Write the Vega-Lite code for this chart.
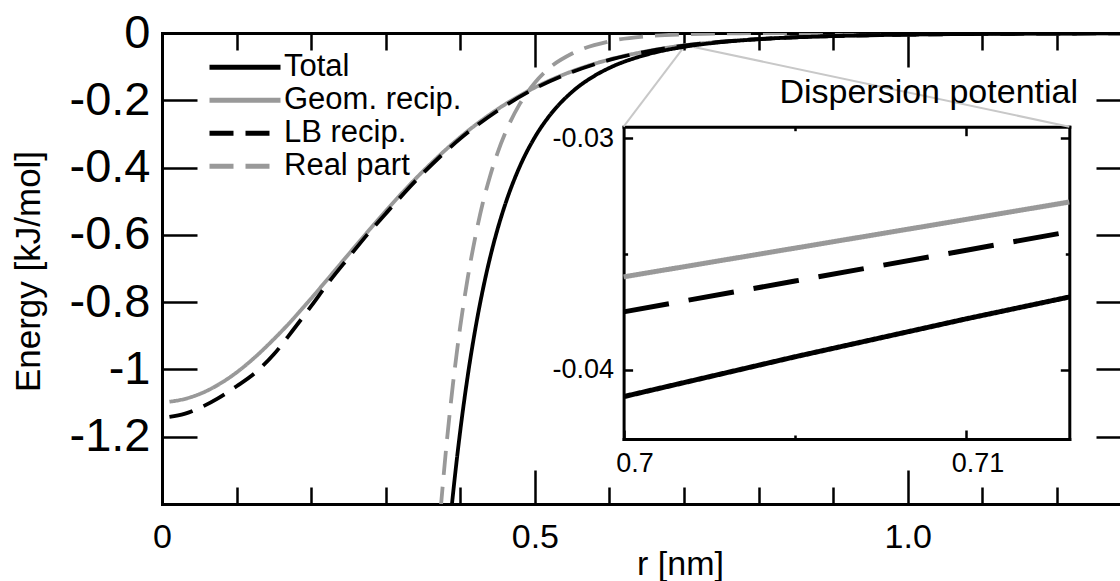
{
"$schema": "https://vega.github.io/schema/vega-lite/v6.json",
"width": 958, "height": 471,
"autosize": "none",
"padding": {"left": 162, "top": 33, "right": 0, "bottom": 77},
"background": "white",
"config": {"font": "Liberation Sans", "view": {"stroke": null},
  "axis": {"grid": false, "domainColor": "black", "tickColor": "black", "labelColor": "black", "titleColor": "black", "labelFont": "Liberation Sans", "titleFont": "Liberation Sans", "titleFontWeight": "normal", "labelFlush": false, "labelOverlap": false, "labelBound": false, "tickCap": "butt", "domainCap": "square"},
  "legend": {"labelFont": "Liberation Sans", "labelColor": "black"}},
"datasets": {
 "main": [
  {"series":"Geom. recip.","r":0.01,"E":-1.096},{"series":"Geom. recip.","r":0.03,"E":-1.088},{"series":"Geom. recip.","r":0.05,"E":-1.0735},{"series":"Geom. recip.","r":0.075,"E":-1.046},{"series":"Geom. recip.","r":0.1,"E":-1.009},{"series":"Geom. recip.","r":0.125,"E":-0.963},{"series":"Geom. recip.","r":0.15,"E":-0.91},{"series":"Geom. recip.","r":0.175,"E":-0.852},{"series":"Geom. recip.","r":0.2,"E":-0.789},{"series":"Geom. recip.","r":0.225,"E":-0.724},{"series":"Geom. recip.","r":0.25,"E":-0.658},{"series":"Geom. recip.","r":0.275,"E":-0.593},{"series":"Geom. recip.","r":0.3,"E":-0.529},{"series":"Geom. recip.","r":0.35,"E":-0.411},{"series":"Geom. recip.","r":0.4,"E":-0.3095},{"series":"Geom. recip.","r":0.45,"E":-0.2266},{"series":"Geom. recip.","r":0.5,"E":-0.162},{"series":"Geom. recip.","r":0.55,"E":-0.1138},{"series":"Geom. recip.","r":0.6,"E":-0.0788},{"series":"Geom. recip.","r":0.65,"E":-0.0543},{"series":"Geom. recip.","r":0.7,"E":-0.0365},{"series":"Geom. recip.","r":0.75,"E":-0.0258},{"series":"Geom. recip.","r":0.8,"E":-0.018},{"series":"Geom. recip.","r":0.9,"E":-0.009},{"series":"Geom. recip.","r":1.0,"E":-0.0048},{"series":"Geom. recip.","r":1.1,"E":-0.0027},{"series":"Geom. recip.","r":1.2,"E":-0.0016},{"series":"Geom. recip.","r":1.3,"E":-0.001},
  {"series":"Real part","r":0.3735,"E":-1.42},{"series":"Real part","r":0.375,"E":-1.382},{"series":"Real part","r":0.38,"E":-1.259},{"series":"Real part","r":0.385,"E":-1.148},{"series":"Real part","r":0.39,"E":-1.047},{"series":"Real part","r":0.395,"E":-0.956},{"series":"Real part","r":0.4,"E":-0.872},{"series":"Real part","r":0.41,"E":-0.728},{"series":"Real part","r":0.42,"E":-0.608},{"series":"Real part","r":0.43,"E":-0.507},{"series":"Real part","r":0.44,"E":-0.425},{"series":"Real part","r":0.45,"E":-0.356},{"series":"Real part","r":0.46,"E":-0.299},{"series":"Real part","r":0.48,"E":-0.21},{"series":"Real part","r":0.5,"E":-0.148},{"series":"Real part","r":0.52,"E":-0.103},{"series":"Real part","r":0.55,"E":-0.061},{"series":"Real part","r":0.6,"E":-0.025},{"series":"Real part","r":0.65,"E":-0.0099},{"series":"Real part","r":0.7,"E":-0.0039},{"series":"Real part","r":0.75,"E":-0.0014},{"series":"Real part","r":0.8,"E":-0.0005},{"series":"Real part","r":0.9,"E":-0.0001},{"series":"Real part","r":1.0,"E":0},{"series":"Real part","r":1.3,"E":0},
  {"series":"LB recip.","r":0.01,"E":-1.141},{"series":"LB recip.","r":0.03,"E":-1.132},{"series":"LB recip.","r":0.05,"E":-1.115},{"series":"LB recip.","r":0.075,"E":-1.086},{"series":"LB recip.","r":0.1,"E":-1.05},{"series":"LB recip.","r":0.125,"E":-1.01},{"series":"LB recip.","r":0.15,"E":-0.955},{"series":"LB recip.","r":0.175,"E":-0.885},{"series":"LB recip.","r":0.2,"E":-0.812},{"series":"LB recip.","r":0.225,"E":-0.737},{"series":"LB recip.","r":0.25,"E":-0.668},{"series":"LB recip.","r":0.275,"E":-0.6},{"series":"LB recip.","r":0.3,"E":-0.537},{"series":"LB recip.","r":0.35,"E":-0.417},{"series":"LB recip.","r":0.4,"E":-0.314},{"series":"LB recip.","r":0.45,"E":-0.231},{"series":"LB recip.","r":0.5,"E":-0.165},{"series":"LB recip.","r":0.55,"E":-0.116},{"series":"LB recip.","r":0.6,"E":-0.08},{"series":"LB recip.","r":0.65,"E":-0.055},{"series":"LB recip.","r":0.7,"E":-0.0375},{"series":"LB recip.","r":0.75,"E":-0.026},{"series":"LB recip.","r":0.8,"E":-0.018},{"series":"LB recip.","r":0.9,"E":-0.0091},{"series":"LB recip.","r":1.0,"E":-0.0049},{"series":"LB recip.","r":1.1,"E":-0.0028},{"series":"LB recip.","r":1.2,"E":-0.0017},{"series":"LB recip.","r":1.3,"E":-0.001},
  {"series":"Total","r":0.386,"E":-1.4636},{"series":"Total","r":0.39,"E":-1.3758},{"series":"Total","r":0.395,"E":-1.2745},{"series":"Total","r":0.4,"E":-1.1819},{"series":"Total","r":0.41,"E":-1.0191},{"series":"Total","r":0.42,"E":-0.882},{"series":"Total","r":0.43,"E":-0.7658},{"series":"Total","r":0.44,"E":-0.6671},{"series":"Total","r":0.45,"E":-0.583},{"series":"Total","r":0.46,"E":-0.511},{"series":"Total","r":0.48,"E":-0.3958},{"series":"Total","r":0.5,"E":-0.3098},{"series":"Total","r":0.52,"E":-0.2449},{"series":"Total","r":0.55,"E":-0.1749},{"series":"Total","r":0.58,"E":-0.1272},{"series":"Total","r":0.6,"E":-0.1038},{"series":"Total","r":0.65,"E":-0.0642},{"series":"Total","r":0.7,"E":-0.04115},{"series":"Total","r":0.75,"E":-0.0272},{"series":"Total","r":0.8,"E":-0.01847},{"series":"Total","r":0.9,"E":-0.00911},{"series":"Total","r":1.0,"E":-0.00484},{"series":"Total","r":1.1,"E":-0.00273},{"series":"Total","r":1.2,"E":-0.00162},{"series":"Total","r":1.3,"E":-0.001}
 ],
 "inset": [
  {"series":"Geom. recip.","r":0.7,"E":-0.03598},{"series":"Geom. recip.","r":0.705,"E":-0.03474},{"series":"Geom. recip.","r":0.71,"E":-0.0335},{"series":"Geom. recip.","r":0.713,"E":-0.03275},
  {"series":"LB recip.","r":0.7,"E":-0.03749},{"series":"LB recip.","r":0.705,"E":-0.03616},{"series":"LB recip.","r":0.71,"E":-0.03483},{"series":"LB recip.","r":0.713,"E":-0.03403},
  {"series":"Total","r":0.7,"E":-0.04115},{"series":"Total","r":0.705,"E":-0.03943},{"series":"Total","r":0.71,"E":-0.03779},{"series":"Total","r":0.713,"E":-0.03685}
 ],
 "links": [
  {"r":0.7,"E":-0.0415,"r2":0.619,"E2":-0.2785},
  {"r":0.713,"E":-0.0415,"r2":1.2167,"E2":-0.2785}
 ],
 "ax": [{"r":0.5,"E":-0.5}],
 "iax": [{"r":0.705,"E":-0.035}],
 "note": [{"label":"Dispersion potential","r":1.2284,"E":-0.2081}]
},
"resolve": {"scale": {"x": "independent", "y": "independent", "color": "independent", "strokeDash": "independent"}},
"layer": [
 {
  "resolve": {"axis": {"x": "independent", "y": "independent"}},
  "layer": [
   {"data": {"name": "links"},
    "mark": {"type": "rule", "color": "#c8c8c8", "strokeWidth": 2},
    "encoding": {
     "x": {"field": "r", "type": "quantitative", "scale": {"domain": [0, 1.2847], "nice": false, "zero": false},
       "axis": {"orient": "bottom", "values": [0, 0.5, 1], "tickSize": -34, "tickWidth": 2.5, "domainWidth": 3, "labelFontSize": 34, "labelPadding": 50, "labelExpr": "datum.value == 0 ? '0' : format(datum.value, '.1f')", "title": "r [nm]", "titleFontSize": 34, "titleX": 518, "titleY": 70, "titleBaseline": "alphabetic", "titleAlign": "center"}},
     "y": {"field": "E", "type": "quantitative", "scale": {"domain": [-1.4, 0], "nice": false, "zero": false},
       "axis": {"orient": "left", "values": [0, -0.2, -0.4, -0.6, -0.8, -1, -1.2], "tickSize": -35, "tickWidth": 2.5, "domainWidth": 3, "labelFontSize": 47, "labelPadding": 47, "labelExpr": "datum.value == 0 ? '0' : '-' + format(-datum.value, '~g')", "title": "Energy [kJ/mol]", "titleFontSize": 35, "titleAngle": -90, "titleX": -123, "titleY": 238, "titleBaseline": "alphabetic", "titleAlign": "center"}},
     "x2": {"field": "r2"},
     "y2": {"field": "E2"}
    }},
   {"data": {"name": "main"},
    "mark": {"type": "line", "strokeWidth": 3.8, "clip": true, "interpolate": "monotone"},
    "encoding": {
     "x": {"field": "r", "type": "quantitative", "scale": {"domain": [0, 1.2847], "nice": false, "zero": false},
       "axis": {"orient": "bottom", "values": [0.1, 0.2, 0.3, 0.4, 0.6, 0.7, 0.8, 0.9, 1.1, 1.2], "tickSize": -17, "tickWidth": 2.5, "domain": false, "labels": false, "title": null}},
     "y": {"field": "E", "type": "quantitative", "scale": {"domain": [-1.4, 0], "nice": false, "zero": false},
       "axis": {"orient": "right", "offset": 11, "values": [0, -0.2, -0.4, -0.6, -0.8, -1, -1.2], "tickSize": -35, "tickWidth": 2.5, "domain": false, "labels": false, "title": null}},
     "color": {"field": "series", "type": "nominal",
       "scale": {"domain": ["Total", "Geom. recip.", "LB recip.", "Real part"], "range": ["#000000", "#999999", "#000000", "#999999"]},
       "legend": {"orient": "none", "legendX": 45, "legendY": 18, "title": null, "symbolType": "stroke", "symbolSize": 5041, "symbolStrokeWidth": 5, "labelFontSize": 31, "labelOffset": 1, "clipHeight": 32.5, "rowPadding": 0, "padding": 0, "labelLimit": 0,
         "encode": {"symbols": {"update": {"strokeDash": {"signal": "indexof(['LB recip.', 'Real part'], datum.value) >= 0 ? [26, 28] : [1, 0]"}}}}}},
     "strokeDash": {"field": "series", "type": "nominal",
       "scale": {"domain": ["Total", "Geom. recip.", "LB recip.", "Real part"], "range": [[1, 0], [1, 0], [24, 12], [24, 12]]},
       "legend": {"orient": "none", "legendX": 45, "legendY": 18, "title": null, "symbolType": "stroke", "symbolSize": 5041, "symbolStrokeWidth": 5, "labelFontSize": 31, "labelOffset": 1, "clipHeight": 32.5, "rowPadding": 0, "padding": 0, "labelLimit": 0,
         "encode": {"symbols": {"update": {"strokeDash": {"signal": "indexof(['LB recip.', 'Real part'], datum.value) >= 0 ? [26, 28] : [1, 0]"}}}}}}
    }},
   {"data": {"name": "ax"},
    "mark": {"type": "point", "opacity": 0},
    "encoding": {
     "x": {"field": "r", "type": "quantitative", "scale": {"domain": [0, 1.2847], "nice": false, "zero": false},
       "axis": {"orient": "top", "values": [0, 0.5, 1], "tickSize": -34, "tickWidth": 2.5, "domainWidth": 3, "labels": false, "title": null}},
     "y": {"field": "E", "type": "quantitative", "scale": {"domain": [-1.4, 0], "nice": false, "zero": false}, "axis": null}
    }},
   {"data": {"name": "ax"},
    "mark": {"type": "point", "opacity": 0},
    "encoding": {
     "x": {"field": "r", "type": "quantitative", "scale": {"domain": [0, 1.2847], "nice": false, "zero": false},
       "axis": {"orient": "top", "values": [0.1, 0.2, 0.3, 0.4, 0.6, 0.7, 0.8, 0.9, 1.1, 1.2], "tickSize": -17, "tickWidth": 2.5, "domain": false, "labels": false, "title": null}},
     "y": {"field": "E", "type": "quantitative", "scale": {"domain": [-1.4, 0], "nice": false, "zero": false}, "axis": null}
    }},
   {"data": {"name": "note"},
    "mark": {"type": "text", "align": "right", "baseline": "alphabetic", "fontSize": 34, "font": "Liberation Sans", "color": "black"},
    "encoding": {
     "x": {"field": "r", "type": "quantitative", "scale": {"domain": [0, 1.2847], "nice": false, "zero": false}, "axis": null},
     "y": {"field": "E", "type": "quantitative", "scale": {"domain": [-1.4, 0], "nice": false, "zero": false}, "axis": null},
     "text": {"field": "label"}
    }}
  ]
 },
 {
  "resolve": {"axis": {"x": "independent", "y": "independent"}},
  "layer": [
   {"data": {"name": "inset"},
    "mark": {"type": "line", "strokeWidth": 5},
    "encoding": {
     "x": {"field": "r", "type": "quantitative", "scale": {"domain": [0.7, 0.713], "range": [461.6, 907.3], "nice": false, "zero": false},
       "axis": {"orient": "bottom", "offset": -65, "values": [0.7, 0.71], "tickSize": -9, "tickWidth": 2.5, "domainWidth": 3, "labelFontSize": 27, "labelPadding": 20, "labelOffset": 11, "labelExpr": "format(datum.value, '~g')", "title": null}},
     "y": {"field": "E", "type": "quantitative", "scale": {"domain": [-0.042978, -0.0295], "range": [406, 93.7], "nice": false, "zero": false},
       "axis": {"orient": "left", "offset": -461.6, "values": [-0.03, -0.04], "tickSize": -9, "tickWidth": 2.5, "domainWidth": 3, "labelFontSize": 27, "labelPadding": 19, "labelExpr": "'-' + format(-datum.value, '~g')", "title": null}},
     "color": {"field": "series", "type": "nominal", "scale": {"domain": ["Total", "Geom. recip.", "LB recip."], "range": ["#000000", "#999999", "#000000"]}, "legend": null},
     "strokeDash": {"field": "series", "type": "nominal", "scale": {"domain": ["Total", "Geom. recip.", "LB recip."], "range": [[1, 0], [1, 0], [46, 20]]}, "legend": null}
    }},
   {"data": {"name": "iax"},
    "mark": {"type": "point", "opacity": 0},
    "encoding": {
     "x": {"field": "r", "type": "quantitative", "scale": {"domain": [0.7, 0.713], "range": [461.6, 907.3], "nice": false, "zero": false},
       "axis": {"orient": "bottom", "offset": -65, "values": [0.705], "tickSize": -4, "tickWidth": 2.5, "domain": false, "labels": false, "title": null}},
     "y": {"field": "E", "type": "quantitative", "scale": {"domain": [-0.042978, -0.0295], "range": [406, 93.7], "nice": false, "zero": false},
       "axis": {"orient": "left", "offset": -461.6, "values": [-0.035], "tickSize": -4, "tickWidth": 2.5, "domain": false, "labels": false, "title": null}}
    }},
   {"data": {"name": "iax"},
    "mark": {"type": "point", "opacity": 0},
    "encoding": {
     "x": {"field": "r", "type": "quantitative", "scale": {"domain": [0.7, 0.713], "range": [461.6, 907.3], "nice": false, "zero": false},
       "axis": {"orient": "top", "offset": -93.7, "values": [0.71], "tickSize": -9, "tickWidth": 2.5, "domainWidth": 3, "labels": false, "title": null}},
     "y": {"field": "E", "type": "quantitative", "scale": {"domain": [-0.042978, -0.0295], "range": [406, 93.7], "nice": false, "zero": false},
       "axis": {"orient": "right", "offset": -50.7, "values": [-0.03, -0.04], "tickSize": -9, "tickWidth": 2.5, "domainWidth": 3, "labels": false, "title": null}}
    }},
   {"data": {"name": "iax"},
    "mark": {"type": "point", "opacity": 0},
    "encoding": {
     "x": {"field": "r", "type": "quantitative", "scale": {"domain": [0.7, 0.713], "range": [461.6, 907.3], "nice": false, "zero": false},
       "axis": {"orient": "top", "offset": -93.7, "values": [0.705], "tickSize": -4, "tickWidth": 2.5, "domain": false, "labels": false, "title": null}},
     "y": {"field": "E", "type": "quantitative", "scale": {"domain": [-0.042978, -0.0295], "range": [406, 93.7], "nice": false, "zero": false},
       "axis": {"orient": "right", "offset": -50.7, "values": [-0.035], "tickSize": -4, "tickWidth": 2.5, "domain": false, "labels": false, "title": null}}
    }}
  ]
 }
]
}
